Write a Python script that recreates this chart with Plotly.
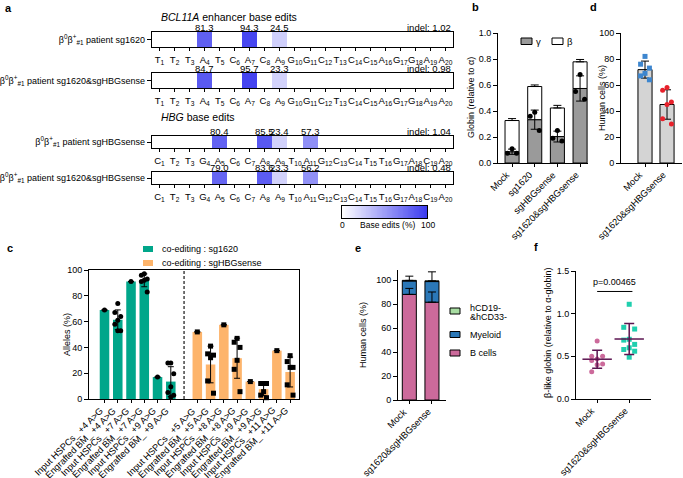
import plotly.graph_objects as go
import numpy as np

W, H = 683, 478
FONT = "Liberation Sans, Arial, sans-serif"

# ---------------- data ----------------
# panel a
bcl_bases = ["T", "T", "T", "A", "T", "C", "A", "C", "A", "G", "G", "C", "T", "C", "C", "A", "G", "G", "A", "A"]
hbg_bases = ["C", "T", "T", "G", "A", "C", "C", "A", "A", "T", "A", "G", "C", "C", "T", "T", "G", "A", "C", "A"]
bcl_edit_pos = [4, 7, 9]
hbg_edit_pos = [5, 8, 9, 11]
row1_vals = [81.3, 94.3, 24.5]
row2_vals = [84.7, 95.7, 23.3]
row3_vals = [80.4, 85.5, 23.4, 57.3]
row4_vals = [79.0, 83.6, 23.3, 56.2]
indels = [1.02, 0.98, 1.04, 0.48]
row_labels = [
    "β<sup>0</sup>β<sup>+</sup><sub>#1</sub> patient sg1620",
    "β<sup>0</sup>β<sup>+</sup><sub>#1</sub> patient sg1620&sgHBGsense",
    "β<sup>0</sup>β<sup>+</sup><sub>#1</sub> patient sgHBGsense",
    "β<sup>0</sup>β<sup>+</sup><sub>#1</sub> patient sg1620&sgHBGsense",
]
scale_steps = list(range(0, 101))

# panel b
b_groups = ["Mock", "sg1620", "sgHBGsense", "sg1620&sgHBGsense"]
gamma_pts = [[0.11, 0.075, 0.075], [0.39, 0.36, 0.25], [0.25, 0.19, 0.17], [0.68, 0.55, 0.49]]
beta_mean = [0.24, 0.255, 0.22, 0.205]
beta_sd = [0.015, 0.012, 0.02, 0.018]

# panel c
c_labels = ["Input HSPCs_ +4 A>G", "Engrafted BM_ +4 A>G", "Input HSPCs_ +7 A>G", "Engrafted BM_ +7 A>G",
            "Input HSPCs_ +9 A>G", "Engrafted BM_ +9 A>G",
            "Input HSPCs_ +5 A>G", "Engrafted BM_ +5 A>G", "Input HSPCs_ +8 A>G", "Engrafted BM_ +8 A>G",
            "Input HSPCs_ +9 A>G", "Engrafted BM_ +9 A>G", "Input HSPCs_ +11 A>G", "Engrafted BM_ +11 A>G"]
c_green_pts = [[69], [74, 67, 64, 61, 58, 53, 53], [91], [97, 96, 93, 92, 91, 83], [17],
               [28, 28, 19.5, 9.5, 5, 3, 1.5]]
c_orange_pts = [[52], [41, 35, 34, 32, 14, 4.5], [57.5], [47, 44, 40, 30, 23, 5.7], [13.5],
                [12, 12, 12, 5.7, 3, 1], [37.5], [33.6, 29, 24.5, 24.5, 11, 3]]

# panel d
d_groups = ["Mock", "sg1620&sgHBGsense"]
d_mock = [82, 76, 73, 69, 67, 64]
d_edit = [58, 56, 47, 45, 34, 30]

# panel e
e_groups = ["Mock", "sg1620&sgHBGsense"]
e_bcells = [88.0, 81.5]
e_bcells_sd = [5.0, 8.5]
e_myeloid = [11.2, 17.2]
e_total_sd = [3.5, 7.5]
e_cd = [0.5, 0.6]

# panel f
f_groups = ["Mock", "sg1620&sgHBGsense"]
f_mock = [0.68, 0.50, 0.50, 0.47, 0.45, 0.41, 0.40, 0.32]
f_edit = [1.11, 0.84, 0.82, 0.70, 0.69, 0.64, 0.60, 0.58, 0.56, 0.49]
p_text = "p=0.00465"


# ---------------- helpers ----------------
def X(px):
    return px / W


def Y(py):
    return 1 - py / H


def spread(vals, w):
    vals = np.asarray(vals, dtype=float)
    offs = np.zeros(len(vals))
    if len(vals) < 2:
        return offs
    order = np.argsort(-vals)
    pattern = [0, -w, w]
    for k, idx in enumerate(order):
        offs[idx] = pattern[k % 3]
    return offs


def mean_sd(pts):
    a = np.asarray(pts, dtype=float)
    return float(a.mean()), (float(a.std(ddof=1)) if len(a) > 1 else 0.0)


def axbase(**kw):
    d = dict(showline=True, linecolor="black", linewidth=1, ticks="outside", tickcolor="black",
             ticklen=3, tickwidth=1, showgrid=False, zeroline=False, fixedrange=True, automargin=False,
             tickfont=dict(size=9, family=FONT, color="black"))
    d.update(kw)
    return d


fig = go.Figure()
layout = dict(width=W, height=H, margin=dict(l=0, r=0, t=0, b=0, autoexpand=False), paper_bgcolor="white",
              plot_bgcolor="white", showlegend=False, barmode="overlay",
              font=dict(family=FONT, size=9, color="black"))
ann = []
shapes = []


def add_axes(i, xdom, ydom, xa, ya):
    xn = "xaxis" if i == 1 else f"xaxis{i}"
    yn = "yaxis" if i == 1 else f"yaxis{i}"
    xa = dict(xa)
    ya = dict(ya)
    xa.update(domain=[X(xdom[0]), X(xdom[1])], anchor=("y" if i == 1 else f"y{i}"))
    ya.update(domain=[Y(ydom[1]), Y(ydom[0])], anchor=("x" if i == 1 else f"x{i}"))
    layout[xn] = xa
    layout[yn] = ya
    return ("x" if i == 1 else f"x{i}"), ("y" if i == 1 else f"y{i}")


def text(x, y, s, size=9, xanchor="center", yanchor="middle", angle=0, xref="paper", yref="paper", **kw):
    ann.append(dict(x=x, y=y, xref=xref, yref=yref, text=s, showarrow=False, xanchor=xanchor,
                    yanchor=yanchor, textangle=angle, font=dict(size=size, family=FONT, color="black"), **kw))


def slanted_labels(xs, labels, xr, yr, size=9):
    for xv, lab in zip(xs, labels):
        text(xv, 0, lab, size=size, xref=xr, yref=yr, xanchor="right", yanchor="top", angle=-45,
             xshift=3, yshift=-4)


# ---------------- panel a ----------------
rows_px = [(32, 47), (73, 88), (136, 148), (172, 184)]
row_bases = [bcl_bases, bcl_bases, hbg_bases, hbg_bases]
row_pos = [bcl_edit_pos, bcl_edit_pos, hbg_edit_pos, hbg_edit_pos]
row_vals = [row1_vals, row2_vals, row3_vals, row4_vals]
for r in range(4):
    z = [0.0] * 20
    for p, v in zip(row_pos[r], row_vals[r]):
        z[p - 1] = v
    xa = axbase(range=[0.5, 20.5], tickvals=list(range(1, 21)), tickangle=0,
                ticktext=[f"{b}<sub>{k + 1}</sub>" for k, b in enumerate(row_bases[r])],
                mirror=True, linewidth=1.2, tickfont=dict(size=9.5, family=FONT, color="black"))
    ya = axbase(range=[-0.5, 0.5], tickvals=[0], ticktext=[row_labels[r]], mirror=True, ticklen=4,
                linewidth=1.2, tickfont=dict(size=9, family=FONT, color="black"))
    xr, yr = add_axes(r + 1, (152, 453), rows_px[r], xa, ya)
    fig.add_trace(go.Heatmap(z=[z], x=list(range(1, 21)), y=[0], coloraxis="coloraxis", xaxis=xr, yaxis=yr,
                             hoverinfo="skip"))
    for p, v in zip(row_pos[r], row_vals[r]):
        text(p, 0.5, f"{v:.1f}", size=9.5, xref=xr, yref=yr, yanchor="bottom", yshift=-3)
    text(20.5, 0.5, f"indel: {indels[r]:.2f}", size=9.5, xref=xr, yref=yr, xanchor="right",
         yanchor="bottom", yshift=-3)

layout["coloraxis"] = dict(cmin=0, cmax=100, colorscale=[[0, "#ffffff"], [1, "#3c3cef"]], showscale=False)

# colour scale bar (drawn as its own heatmap strip)
xa = axbase(range=[-0.5, 100.5], showticklabels=False, ticks="", mirror=True)
ya = axbase(range=[-0.5, 0.5], showticklabels=False, ticks="", mirror=True)
xr, yr = add_axes(10, (342, 427), (206, 218), xa, ya)
fig.add_trace(go.Heatmap(z=[scale_steps], x=scale_steps, y=[0], coloraxis="coloraxis", xaxis=xr, yaxis=yr,
                         hoverinfo="skip"))
text(X(342), Y(225), "0", size=8.5)
text(X(387), Y(225), "Base edits (%)", size=8.5)
text(X(428), Y(225), "100", size=8.5)
text(X(159), Y(17), "<i>BCL11A</i> enhancer base edits", size=10.5, xanchor="left")
text(X(159), Y(117), "<i>HBG</i> base edits", size=10.5, xanchor="left")

# ---------------- panel b ----------------
xb = list(range(4))
gam_stats = [mean_sd(p) for p in gamma_pts]
gam_mean = [s[0] for s in gam_stats]
gam_sd = [s[1] for s in gam_stats]
xa = axbase(range=[-0.62, 3.35], tickvals=xb, showticklabels=False)
ya = axbase(range=[0, 1.0], tickvals=[0, 0.2, 0.4, 0.6, 0.8, 1.0], tickformat=".1f", ticklen=4)
xr, yr = add_axes(5, (498, 588), (33, 163), xa, ya)
slanted_labels(xb, b_groups, xr, yr, size=9.3)
fig.add_trace(go.Bar(x=xb, y=gam_mean, width=0.62, marker=dict(color="#9a9a9a", line=dict(color="black", width=1)),
                     xaxis=xr, yaxis=yr))
fig.add_trace(go.Bar(x=xb, y=beta_mean, base=gam_mean, width=0.62,
                     marker=dict(color="white", line=dict(color="black", width=1)), xaxis=xr, yaxis=yr))
tot = [g + b for g, b in zip(gam_mean, beta_mean)]
fig.add_trace(go.Scatter(x=xb, y=tot, mode="markers", marker=dict(size=1, color="rgba(0,0,0,0)"),
                         error_y=dict(type="data", array=beta_sd, arrayminus=[0] * 4, symmetric=False,
                                      color="black", thickness=1, width=4), xaxis=xr, yaxis=yr, cliponaxis=False))
fig.add_trace(go.Scatter(x=xb, y=gam_mean, mode="markers", marker=dict(size=1, color="rgba(0,0,0,0)"),
                         error_y=dict(type="data", array=gam_sd, color="black", thickness=1, width=4),
                         xaxis=xr, yaxis=yr, cliponaxis=False))
for i, pts in enumerate(gamma_pts):
    fig.add_trace(go.Scatter(x=i + spread(pts, 0.2), y=pts, mode="markers",
                             marker=dict(size=5, color="black", symbol="circle"), xaxis=xr, yaxis=yr,
                             cliponaxis=False))
shapes.append(dict(type="rect", xref="paper", yref="paper", x0=X(521), x1=X(532), y0=Y(44.5), y1=Y(38),
                   fillcolor="#9a9a9a", line=dict(color="black", width=1)))
shapes.append(dict(type="rect", xref="paper", yref="paper", x0=X(552), x1=X(563), y0=Y(44.5), y1=Y(38),
                   fillcolor="white", line=dict(color="black", width=1)))
text(X(538), Y(41.5), "γ", size=9.5)
text(X(570), Y(41.5), "β", size=9.5)
text(X(471), Y(98), "Globin (relative to α)", size=9, angle=-90)

# ---------------- panel d ----------------
dm = [mean_sd(d_mock), mean_sd(d_edit)]
xa = axbase(range=[-1.09, 1.68], tickvals=[0, 1], showticklabels=False)
ya = axbase(range=[0, 100], tickvals=[0, 20, 40, 60, 80, 100], ticklen=4)
xr, yr = add_axes(6, (621, 682), (33, 163), xa, ya)
slanted_labels([0, 1], d_groups, xr, yr, size=9.3)
fig.add_trace(go.Bar(x=[0, 1], y=[m[0] for m in dm], width=0.64,
                     marker=dict(color="#d4d4d4", line=dict(color="black", width=1)), xaxis=xr, yaxis=yr))
fig.add_trace(go.Scatter(x=[0, 1], y=[m[0] for m in dm], mode="markers", marker=dict(size=1, color="rgba(0,0,0,0)"),
                         error_y=dict(type="data", array=[m[1] for m in dm], color="black", thickness=1, width=4),
                         xaxis=xr, yaxis=yr, cliponaxis=False))
fig.add_trace(go.Scatter(x=0 + spread(d_mock, 0.2), y=d_mock, mode="markers",
                         marker=dict(size=5, color="#3d86cf", symbol="square"), xaxis=xr, yaxis=yr, cliponaxis=False))
fig.add_trace(go.Scatter(x=1 + spread(d_edit, 0.2), y=d_edit, mode="markers",
                         marker=dict(size=5, color="#e8212b", symbol="circle"), xaxis=xr, yaxis=yr, cliponaxis=False))
text(X(602), Y(98), "Human cells (%)", size=9, angle=-90)

# ---------------- panel c ----------------
xc_green = [0, 1, 2, 3, 4, 5]
xc_orange = [7, 8, 9, 10, 11, 12, 13, 14]
xa = axbase(range=[-1.17, 14.67], tickvals=xc_green + xc_orange, showticklabels=False, mirror=True)
ya = axbase(range=[0, 100], tickvals=[0, 20, 40, 60, 80, 100], ticklen=4, mirror=True)
xr, yr = add_axes(7, (89, 299), (270, 399), xa, ya)
slanted_labels(xc_green + xc_orange, c_labels, xr, yr, size=9.2)
for xs, groups, col, sym in [(xc_green, c_green_pts, "#00a68a", "circle"),
                              (xc_orange, c_orange_pts, "#fdb46b", "square")]:
    st = [mean_sd(p) for p in groups]
    fig.add_trace(go.Bar(x=xs, y=[s[0] for s in st], width=0.72, marker=dict(color=col, line=dict(width=0)),
                         xaxis=xr, yaxis=yr))
    fig.add_trace(go.Scatter(x=xs, y=[s[0] for s in st], mode="markers", marker=dict(size=1, color="rgba(0,0,0,0)"),
                             error_y=dict(type="data", array=[s[1] for s in st], color="black", thickness=1, width=3),
                             xaxis=xr, yaxis=yr, cliponaxis=False))
    for xv, pts in zip(xs, groups):
        fig.add_trace(go.Scatter(x=xv + spread(pts, 0.22), y=pts, mode="markers",
                                 marker=dict(size=5, color="black", symbol=sym), xaxis=xr, yaxis=yr,
                                 cliponaxis=False))
shapes.append(dict(type="line", xref=xr, yref=yr, x0=6, x1=6, y0=0, y1=100,
                   line=dict(color="#444444", width=1.5, dash="3px,2px")))
shapes.append(dict(type="rect", xref="paper", yref="paper", x0=X(143), x1=X(153), y0=Y(252), y1=Y(246),
                   fillcolor="#00a68a", line=dict(width=0)))
shapes.append(dict(type="rect", xref="paper", yref="paper", x0=X(143), x1=X(153), y0=Y(266), y1=Y(260),
                   fillcolor="#fdb46b", line=dict(width=0)))
text(X(160), Y(249), "co-editing : sg1620", size=9, xanchor="left")
text(X(160), Y(263), "co-editing : sgHBGsense", size=9, xanchor="left")
text(X(67), Y(335), "Alleles (%)", size=9, angle=-90)

# ---------------- panel e ----------------
xe = [0, 1]
xa = axbase(range=[-0.5, 1.62], tickvals=xe, showticklabels=False)
ya = axbase(range=[0, 108], tickvals=[0, 20, 40, 60, 80, 100], ticklen=4)
xr, yr = add_axes(8, (398, 446), (270.4, 400), xa, ya)
slanted_labels(xe, e_groups, xr, yr, size=9.3)
fig.add_trace(go.Bar(x=xe, y=e_bcells, width=0.62, marker=dict(color="#cc6a9b", line=dict(color="black", width=1)),
                     xaxis=xr, yaxis=yr))
fig.add_trace(go.Bar(x=xe, y=e_myeloid, base=e_bcells, width=0.62,
                     marker=dict(color="#2b78b8", line=dict(color="black", width=1)), xaxis=xr, yaxis=yr))
e_base2 = [a + b for a, b in zip(e_bcells, e_myeloid)]
fig.add_trace(go.Bar(x=xe, y=e_cd, base=e_base2, width=0.62,
                     marker=dict(color="#a8dda2", line=dict(color="black", width=1)), xaxis=xr, yaxis=yr))
e_tot = [a + b for a, b in zip(e_base2, e_cd)]
fig.add_trace(go.Scatter(x=xe, y=e_bcells, mode="markers", marker=dict(size=1, color="rgba(0,0,0,0)"),
                         error_y=dict(type="data", array=e_bcells_sd, arrayminus=[0, 0], symmetric=False,
                                      color="black", thickness=1, width=4), xaxis=xr, yaxis=yr, cliponaxis=False))
fig.add_trace(go.Scatter(x=xe, y=e_tot, mode="markers", marker=dict(size=1, color="rgba(0,0,0,0)"),
                         error_y=dict(type="data", array=e_total_sd, arrayminus=[0, 0], symmetric=False,
                                      color="black", thickness=1, width=4), xaxis=xr, yaxis=yr, cliponaxis=False))
for yy, col in [(311, "#a8dda2"), (334.5, "#2b78b8"), (353, "#cc6a9b")]:
    shapes.append(dict(type="rect", xref="paper", yref="paper", x0=X(450), x1=X(460), y0=Y(yy + 3), y1=Y(yy - 3),
                       fillcolor=col, line=dict(color="black", width=1)))
text(X(468), Y(307.5), "hCD19-", size=9, xanchor="left")
text(X(468), Y(316.5), "&hCD33-", size=9, xanchor="left")
text(X(468), Y(334.5), "Myeloid", size=9, xanchor="left")
text(X(468), Y(353), "B cells", size=9, xanchor="left")
text(X(363), Y(335), "Human cells (%)", size=9, angle=-90)

# ---------------- panel f ----------------
xa = axbase(range=[-0.66, 1.68], tickvals=[0, 1], showticklabels=False)
ya = axbase(range=[0, 1.5], tickvals=[0, 0.5, 1.0, 1.5], tickformat=".1f", ticklen=4)
xr, yr = add_axes(9, (576, 651), (271, 399), xa, ya)
slanted_labels([0, 1], f_groups, xr, yr, size=9.3)
fst = [mean_sd(f_mock), mean_sd(f_edit)]
fig.add_trace(go.Scatter(x=0 + spread(f_mock, 0.17), y=f_mock, mode="markers",
                         marker=dict(size=5, color="#cc6a9b", symbol="circle"), xaxis=xr, yaxis=yr, cliponaxis=False))
fig.add_trace(go.Scatter(x=1 + spread(f_edit, 0.17), y=f_edit, mode="markers",
                         marker=dict(size=5, color="#1fcfae", symbol="square"), xaxis=xr, yaxis=yr, cliponaxis=False))
fig.add_trace(go.Scatter(x=[0, 1], y=[s[0] for s in fst], mode="markers",
                         marker=dict(symbol="line-ew-open", size=21, color="#5b1450",
                                     line=dict(color="#5b1450", width=1.5)),
                         error_y=dict(type="data", array=[s[1] for s in fst], color="#5b1450", thickness=1.5, width=5),
                         xaxis=xr, yaxis=yr, cliponaxis=False))
shapes.append(dict(type="line", xref=xr, yref=yr, x0=0, x1=1.1, y0=1.26, y1=1.26, line=dict(color="black", width=1)))
text(0.55, 1.26, p_text, size=9, xref=xr, yref=yr, yanchor="bottom", yshift=2)
text(X(548), Y(333), "β-like globin (relative to α-globin)", size=9, angle=-90)

# ---------------- panel letters ----------------
for lab, px, py in [("a", 8, 8), ("b", 475, 7), ("d", 593, 7), ("c", 10, 248), ("e", 358, 248), ("f", 536, 247)]:
    text(X(px), Y(py), f"<b>{lab}</b>", size=11)

layout["annotations"] = ann
layout["shapes"] = shapes
fig.update_layout(**layout)
page_css = ("document.documentElement.style.margin='0';document.documentElement.style.overflow='hidden';"
            "document.body.style.margin='0';document.body.style.padding='0';document.body.style.overflow='hidden';")
fig.write_html("out.html", post_script=page_css, config={"displayModeBar": False, "staticPlot": True})
